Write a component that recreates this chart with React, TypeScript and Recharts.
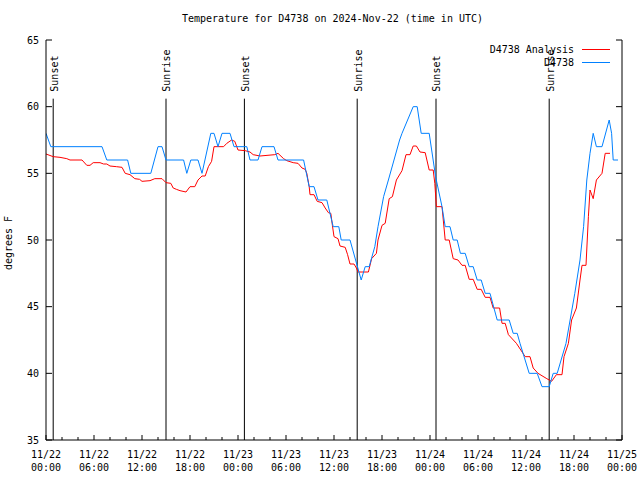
import { LineChart, Line, XAxis, YAxis, ReferenceLine, Legend, Label } from 'recharts'

// hours since 2024-11-22 00:00 UTC
const obsHours = [
  0, 0.6, 7.0, 7.6, 10.2, 10.6, 13.1, 14.0, 14.5, 15.0, 17.2, 17.6, 18.1, 19.0, 19.5, 20.6, 21.0,
  21.5, 22.0, 23.0, 23.5, 25.1, 25.5, 26.5, 27.0, 28.5, 29.0, 32.2, 32.9, 33.5, 34.0, 35.1, 35.9,
  36.6, 36.9, 38.0, 39.4, 39.9, 40.4, 41.1, 41.5, 42.2, 42.8, 43.5, 44.2, 44.5, 45.9, 46.4, 46.9,
  47.9, 48.7, 49.5, 49.9, 50.5, 50.9, 51.4, 51.8, 52.4, 52.9, 53.4, 53.9, 54.4, 54.9, 55.5, 56.4,
  57.9, 58.4, 58.9, 59.25, 60.4, 61.4, 62.0, 62.9, 63.4, 63.9, 65.0, 66.1, 66.75, 67.2, 67.6, 68.0,
  68.4, 68.8, 69.5, 70.4, 70.7, 70.9, 71.5,
]
const obsTemps = [
  58, 57, 57, 56, 56, 55, 55, 57, 57, 56, 56, 55, 56, 56, 55, 58, 58,
  57, 58, 58, 57, 57, 56, 56, 57, 57, 56, 56, 54, 54, 53, 53, 51,
  51, 50, 50, 47, 48, 48, 49.5, 51, 53.25, 54.5, 56, 57.5, 58, 60, 60, 58,
  58, 54.75, 52.5, 51, 51, 50, 50, 49, 49, 48, 48, 47, 47, 46, 46, 44,
  44, 43, 43, 42.25, 40, 40, 39, 39, 40, 40, 42.25, 46, 48.5, 51, 54.5, 56.5,
  58, 57, 57, 59, 58, 56, 56,
]

const anaHours = [
  0, 0.9, 1.75, 2.6, 3.0, 4.5, 5.1, 5.5, 5.9, 6.75, 7.2, 7.6, 8.0, 8.8, 9.5, 9.9, 10.5, 11.1, 11.7,
  12.0, 13.0, 13.6, 14.5, 15.0, 15.6, 15.9, 16.3, 16.75, 17.5, 18.0, 18.6, 19.0, 19.5, 19.9, 20.3,
  20.7, 21.0, 22.2, 22.6, 23.2, 23.6, 24.0, 24.9, 25.5, 25.9, 26.75, 28.6, 29.0, 29.7, 30.1, 30.9,
  31.5, 32.0, 32.4, 32.6, 32.9, 33.0, 33.5, 33.9, 34.5, 34.9, 35.3, 35.6, 35.8, 36.0, 36.5, 36.75,
  37.4, 37.7, 38.0, 38.5, 38.8, 39.0, 40.3, 40.7, 41.3, 41.5, 42.0, 42.4, 42.9, 43.3, 43.8, 44.5,
  45.0, 45.5, 45.9, 46.3, 46.75, 47.4, 47.9, 48.4, 48.6, 48.8, 49.5, 49.9, 50.4, 50.9, 51.5, 52.0,
  52.4, 52.9, 53.4, 53.9, 54.4, 54.9, 55.5, 55.9, 56.7, 57.0, 57.4, 57.8, 58.8, 59.9, 60.5, 60.9,
  61.5, 62.6, 63.2, 63.8, 64.5, 64.75, 65.3, 65.7, 66.3, 66.75, 67.0, 67.5, 67.8, 68.0, 68.4, 68.8,
  69.5, 69.9, 70.5,
]
const anaTemps = [
  56.45, 56.25, 56.2, 56.1, 56.0, 56.0, 55.6, 55.6, 55.8, 55.8, 55.7, 55.7, 55.55, 55.5, 55.45, 55.0, 54.9, 54.6, 54.55,
  54.4, 54.45, 54.6, 54.6, 54.3, 54.25, 53.9, 53.8, 53.7, 53.6, 54.0, 54.0, 54.5, 54.8, 54.8, 55.5,
  55.9, 57.0, 57.0, 57.25, 57.5, 57.4, 56.75, 56.7, 56.6, 56.4, 56.3, 56.4, 56.5, 56.1, 55.95, 55.8,
  55.75, 55.4, 55.3, 55.0, 54.0, 53.4, 53.4, 52.9, 52.8, 52.4, 52.05, 52.0, 51.1, 50.25, 50.1, 49.55,
  49.45, 48.9, 48.2, 48.2, 47.9, 47.6, 47.6, 48.6, 49.0, 50.0, 51.1, 51.25, 53.1, 53.25, 54.5, 55.2,
  56.4, 56.4, 57.05, 57.05, 56.6, 56.55, 55.25, 55.25, 54.25, 52.5, 52.5, 50.0, 50.0, 48.6, 48.5, 48.1,
  48.1, 47.05, 47.05, 46.3, 46.3, 45.7, 45.7, 44.9, 44.9, 43.75, 43.75, 42.9, 42.25, 41.25, 41.25, 40.4,
  40.0, 39.6, 39.4, 39.9, 39.9, 41.25, 42.25, 44.0, 44.9, 47.0, 48.1, 48.1, 51.75, 53.75, 53.1, 54.5,
  55.0, 56.5, 56.5,
]

const sunHours = [0.9, 15.0, 24.8, 38.9, 48.75, 62.9]
const sunNames = ['Sunset', 'Sunrise', 'Sunset', 'Sunrise', 'Sunset', 'Sunrise']

const xTicks = [0, 2, 4, 6, 8, 10, 12, 14, 16, 18, 20, 22, 24, 26, 28, 30, 32, 34, 36, 38, 40, 42, 44, 46, 48, 50, 52, 54, 56, 58, 60, 62, 64, 66, 68, 70, 72]
const majorTicks = [0, 6, 12, 18, 24, 30, 36, 42, 48, 54, 60, 66, 72]
const xTickDates = ['11/22', '11/22', '11/22', '11/22', '11/23', '11/23', '11/23', '11/23', '11/24', '11/24', '11/24', '11/24', '11/25']
const xTickTimes = ['00:00', '06:00', '12:00', '18:00', '00:00', '06:00', '12:00', '18:00', '00:00', '06:00', '12:00', '18:00', '00:00']
const yTicks = [35, 40, 45, 50, 55, 60, 65]

const obsData = obsHours.map((h, i) => ({ h, t: obsTemps[i] }))
const anaData = anaHours.map((h, i) => ({ h, t: anaTemps[i] }))

const FONT = '"DejaVu Sans Mono", "Liberation Mono", monospace'
const FS = 10

function BottomTick(props: any) {
  const { x, y, payload } = props
  const i = majorTicks.indexOf(payload.value)
  const major = i >= 0
  return (
    <g>
      <line x1={x} x2={x} y1={y} y2={y - (major ? 5 : 3)} stroke="#000" />
      {major && (
        <text x={x} y={y + 18} textAnchor="middle" fontFamily={FONT} fontSize={FS} fill="#000">
          {xTickDates[i]}
        </text>
      )}
      {major && (
        <text x={x} y={y + 31} textAnchor="middle" fontFamily={FONT} fontSize={FS} fill="#000">
          {xTickTimes[i]}
        </text>
      )}
    </g>
  )
}

function TopTick(props: any) {
  const { x, y, payload } = props
  const major = majorTicks.includes(payload.value)
  return <line x1={x} x2={x} y1={y} y2={y + (major ? 5 : 3)} stroke="#000" />
}

function LeftTick(props: any) {
  const { x, y, payload } = props
  return (
    <g>
      <line x1={x} x2={x + 6} y1={y} y2={y} stroke="#000" />
      <text x={x - 7} y={y} dy="0.35em" textAnchor="end" fontFamily={FONT} fontSize={FS} fill="#000">
        {payload.value}
      </text>
    </g>
  )
}

function RightTick(props: any) {
  const { x, y } = props
  return <line x1={x} x2={x - 6} y1={y} y2={y} stroke="#000" />
}

function SunLabel(props: any) {
  const { viewBox, value } = props
  const x = viewBox.x + 4.5
  const y = viewBox.y - 7
  return (
    <text x={x} y={y} transform={`rotate(-90 ${x} ${y})`} fontFamily={FONT} fontSize={FS} fill="#000">
      {value}
    </text>
  )
}

function YLabel() {
  return (
    <text x={12} y={243} transform="rotate(-90 12 243)" textAnchor="middle" fontFamily={FONT} fontSize={FS} fill="#000">
      degrees F
    </text>
  )
}

function LegendBox() {
  return (
    <svg width={200} height={30} style={{ display: 'block' }}>
      <text x={134} y={11} textAnchor="end" fontFamily={FONT} fontSize={FS} fill="#000">D4738 Analysis</text>
      <line x1={142} x2={170} y1={7.5} y2={7.5} stroke="#ff0000" />
      <text x={134} y={24} textAnchor="end" fontFamily={FONT} fontSize={FS} fill="#000">D4738</text>
      <line x1={142} x2={170} y1={20.5} y2={20.5} stroke="#0080ff" />
    </svg>
  )
}

export default function App() {
  return (
    <div style={{ position: 'absolute', left: 0, top: 0, width: 640, height: 480, background: '#fff' }}>
      <div
        style={{
          position: 'absolute',
          top: 13,
          left: 0,
          width: 665,
          textAlign: 'center',
          fontFamily: FONT,
          fontSize: FS,
          color: '#000',
          lineHeight: '12px',
          whiteSpace: 'pre',
        }}
      >
        Temperature for D4738 on 2024-Nov-22 (time in UTC)
      </div>
      <LineChart width={640} height={480} margin={{ top: 40, right: 0, bottom: 0, left: 0 }}>
        <XAxis
          dataKey="h"
          type="number"
          domain={[0, 72]}
          ticks={xTicks}
          interval={0}
          height={40}
          tickSize={0}
          tickMargin={0}
          tickLine={false}
          tick={<BottomTick />}
          axisLine={{ stroke: '#000' }}
          allowDataOverflow
        />
        <XAxis
          xAxisId="top"
          orientation="top"
          dataKey="h"
          type="number"
          domain={[0, 72]}
          ticks={xTicks}
          interval={0}
          height={0}
          tickSize={0}
          tickMargin={0}
          tickLine={false}
          tick={<TopTick />}
          axisLine={{ stroke: '#000' }}
          allowDataOverflow
        />
        <YAxis
          type="number"
          domain={[35, 65]}
          ticks={yTicks}
          interval={0}
          width={46}
          tickSize={0}
          tickMargin={0}
          tickLine={false}
          tick={<LeftTick />}
          axisLine={{ stroke: '#000' }}
          allowDataOverflow
          label={<Label content={<YLabel />} />}
        />
        <YAxis
          yAxisId="right"
          orientation="right"
          type="number"
          domain={[35, 65]}
          ticks={yTicks}
          interval={0}
          width={18}
          tickSize={0}
          tickMargin={0}
          tickLine={false}
          tick={<RightTick />}
          axisLine={{ stroke: '#000' }}
          allowDataOverflow
        />
        {sunHours.map((h, i) => (
          <ReferenceLine
            key={i}
            segment={[
              { x: h, y: 60.6 },
              { x: h, y: 35 },
            ]}
            stroke="#000"
            strokeWidth={1}
            label={<Label content={<SunLabel />} value={sunNames[i]} />}
          />
        ))}
        <Line
          data={anaData}
          dataKey="t"
          name="D4738 Analysis"
          type="linear"
          stroke="#ff0000"
          strokeWidth={1}
          dot={false}
          activeDot={false}
          isAnimationActive={false}
        />
        <Line
          data={obsData}
          dataKey="t"
          name="D4738"
          type="linear"
          stroke="#0080ff"
          strokeWidth={1}
          dot={false}
          activeDot={false}
          isAnimationActive={false}
        />
        <Legend
          layout="horizontal"
          verticalAlign="middle"
          align="center"
          content={<LegendBox />}
          wrapperStyle={{ position: 'absolute', top: 42, left: 440, width: 200, height: 30 }}
        />
      </LineChart>
    </div>
  )
}
